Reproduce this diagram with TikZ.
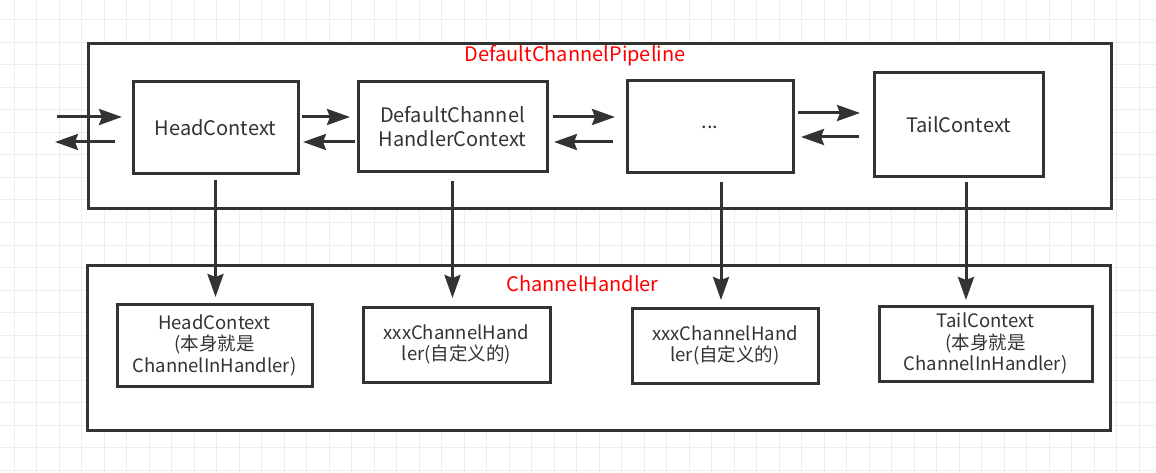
\documentclass[tikz,border=0pt]{standalone}
\usepackage{fontspec}
\setmainfont{Noto Sans CJK SC}
\usetikzlibrary{arrows.meta}
\definecolor{ink}{HTML}{333333}
\definecolor{gridgray}{HTML}{EDEDED}
\begin{document}
\begin{tikzpicture}[x=1pt,y=-1pt,
  frame/.style={draw=ink,line width=3pt,fill=white},
  ctx/.style={draw=ink,line width=3pt,fill=white,align=center,text=ink,inner sep=0pt,
    font=\fontsize{20}{24}\selectfont},
  hdl/.style={draw=ink,line width=3pt,fill=white,align=center,text=ink,inner sep=0pt,
    font=\fontsize{18.5}{21.5}\selectfont},
  title/.style={text=red,font=\fontsize{20}{24}\selectfont},
  link/.style={draw=ink,line width=3pt,-{Stealth[length=23pt,width=16pt,inset=3pt]}}]
\useasboundingbox (0,0) rectangle (1156,473);
\fill[white] (0,0) rectangle (1156,473);

\foreach \k in {0,...,50}
  \draw[gridgray,line width=1pt] ({14.3+22.5*\k},0) -- ({14.3+22.5*\k},473);
\foreach \k in {0,...,20}
  \draw[gridgray,line width=1pt] (0,{20+22.5*\k}) -- (1156,{20+22.5*\k});

\draw[frame] (88,44) rectangle (1111,209);
\draw[frame] (87,265) rectangle (1110,430);

\node[title] (pipetitle) at (575,56) {DefaultChannelPipeline};
\node[title] (hdltitle) at (582.5,284) {ChannelHandler};

\node[ctx,minimum width=165pt,minimum height=92pt] (head) at (215.5,128) {HeadContext};
\node[ctx,minimum width=189pt,minimum height=90pt] (dc) at (452.5,127) {DefaultChannel\\HandlerContext};
\node[ctx,minimum width=166pt,minimum height=92pt] (dots) at (710,127) {...};
\node[ctx,minimum width=169pt,minimum height=104pt] (tail) at (958.5,125) {TailContext};

\node[hdl,minimum width=195pt,minimum height=82pt] (h2) at (214.5,345) {HeadContext\\(本身就是\\ChannelInHandler)};
\node[hdl,minimum width=187pt,minimum height=75pt] (x1) at (456.5,344.5) {xxxChannelHand\\ler(自定义的)};
\node[hdl,minimum width=186pt,minimum height=75pt] (x2) at (725,345.5) {xxxChannelHand\\ler(自定义的)};
\node[hdl,minimum width=213pt,minimum height=75pt] (t2) at (985.5,343.5) {TailContext\\(本身就是\\ChannelInHandler)};

\coordinate (inR) at (57,117);
\coordinate (outL) at (55,142);
\draw[link,shorten >=9.5pt] (inR) -- ([yshift=11pt]head.west);
\draw[link,shorten <=16.5pt] ([yshift=-14pt]head.west) -- (outL);

\draw[link,shorten <=2.5pt,shorten >=6.5pt] ([yshift=11pt]head.east) -- ([yshift=10pt]dc.west);
\draw[link,shorten <=1.5pt,shorten >=3.5pt] ([yshift=-15pt]dc.west) -- ([yshift=-14pt]head.east);
\draw[link,shorten <=4.5pt,shorten >=10.5pt] ([yshift=10pt]dc.east) -- ([yshift=10pt]dots.west);
\draw[link,shorten <=12.5pt,shorten >=5.5pt] ([yshift=-15pt]dots.west) -- ([yshift=-15pt]dc.east);
\draw[link,shorten <=3.5pt,shorten >=12.5pt] ([yshift=14pt]dots.east) -- ([yshift=12pt]tail.west);
\draw[link,shorten <=13.5pt,shorten >=6.5pt] ([yshift=-12pt]tail.west) -- ([yshift=-10pt]dots.east);

\coordinate (dotsdrop) at ([xshift=11pt]dots.south);
\coordinate (taildrop) at ([xshift=7.5pt]tail.south);
\draw[link,shorten <=4.5pt,shorten >=5.5pt] (head.south) -- (head.south |- h2.north);
\draw[link,shorten <=7.5pt,shorten >=7.5pt] (dc.south) -- (dc.south |- x1.north);
\draw[link,shorten <=7.5pt,shorten >=6.5pt] (dotsdrop) -- (dotsdrop |- x2.north);
\draw[link,shorten <=3.5pt,shorten >=4.5pt] (taildrop) -- (taildrop |- t2.north);
\end{tikzpicture}
\end{document}
